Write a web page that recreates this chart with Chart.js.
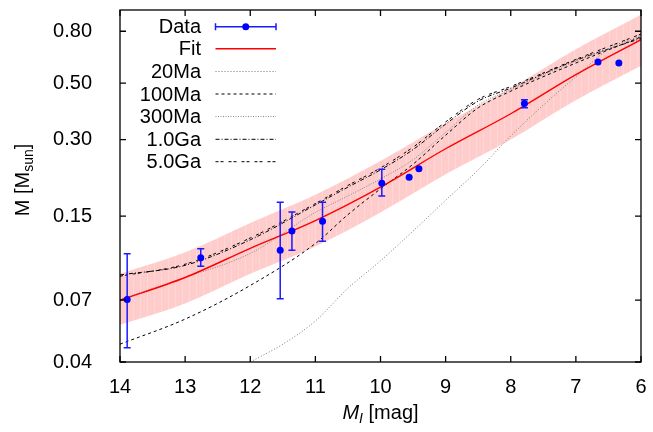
<!DOCTYPE html>
<html>
<head>
<meta charset="utf-8">
<script src="https://cdn.jsdelivr.net/npm/chart.js@4"></script>
<style>
  html, body { margin: 0; padding: 0; background: #fff; }
</style>
</head>
<body>
<canvas id="chart" width="653" height="432"></canvas>
<script>
// absolute I magnitude grid for the fit and its band
const fitMag = [14, 13, 12, 11, 10, 9, 8, 7, 6];
const fitMass = [0.070, 0.086, 0.112, 0.144, 0.195, 0.276, 0.379, 0.54, 0.742];
const bandHigh = [0.089, 0.108, 0.141, 0.182, 0.247, 0.348, 0.478, 0.68, 0.93];
const bandLow = [0.056, 0.068, 0.089, 0.114, 0.155, 0.219, 0.300, 0.428, 0.585];

// isochrones
const isoMag = [14, 13, 12, 11, 10.5, 10, 9.5, 9, 8.5, 8, 7, 6];
const iso100Ma = [0.047, 0.059, 0.080, 0.117, 0.152, 0.192, 0.240, 0.312, 0.400, 0.465, 0.60, 0.76];
const iso300Ma = [0.0705, 0.086, 0.107, 0.155, 0.180, 0.210, 0.250, 0.320, 0.410, 0.472, 0.61, 0.76];
const iso1Ga = [0.088, 0.096, 0.121, 0.166, 0.195, 0.228, 0.274, 0.345, 0.425, 0.478, 0.615, 0.75];
const iso5Ga = [0.087, 0.097, 0.123, 0.168, 0.198, 0.232, 0.280, 0.352, 0.432, 0.485, 0.620, 0.78];
const iso20Mag = [12, 11.5, 11, 10.5, 10, 9.5, 9, 8.5, 8, 7.5, 7, 6.5, 6];
const iso20Ma = [0.040, 0.047, 0.058, 0.078, 0.100, 0.131, 0.173, 0.228, 0.310, 0.41, 0.53, 0.68, 0.77];

// measured stars
const starMag = [13.89, 12.76, 11.54, 11.36, 10.89, 9.98, 9.56, 9.41, 7.79, 6.66, 6.34];
const starMass = [0.0705, 0.1028, 0.110, 0.131, 0.143, 0.202, 0.213, 0.2305, 0.416, 0.605, 0.600];
const starMassLow = [0.0455, 0.0953, 0.0709, 0.110, 0.1195, 0.180, 0.213, 0.2305, 0.400, 0.605, 0.600];
const starMassHigh = [0.1067, 0.1116, 0.170, 0.1555, 0.170, 0.229, 0.213, 0.2305, 0.430, 0.605, 0.600];

const massTicks = [0.04, 0.07, 0.15, 0.30, 0.50, 0.80];

const FONT = '"Liberation Sans", Arial, sans-serif';

function pts(xs, ys) {
  return xs.map((x, i) => ({ x: x, y: ys[i] }));
}

// pink fill with the faint vertical stripes of the original
function bandPattern() {
  const c = document.createElement("canvas");
  c.width = 7;
  c.height = 1;
  const g = c.getContext("2d");
  g.fillStyle = "#ffcccc";
  g.fillRect(0, 0, 7, 1);
  g.fillStyle = "#ffd6d6";
  g.fillRect(0, 0, 1, 1);
  return g.createPattern(c, "repeat");
}

function isoLine(label, mags, vals, color, dash) {
  return {
    label: label,
    data: pts(mags, vals),
    borderColor: color,
    borderWidth: 1,
    borderDash: dash,
    pointRadius: 0,
    fill: false,
    cubicInterpolationMode: "monotone",
  };
}

const datasets = [
  {
    label: "Data",
    data: pts(starMag, starMass),
    showLine: false,
    pointRadius: 3.5,
    pointBackgroundColor: "#0000ff",
    pointBorderColor: "#0000ff",
    pointBorderWidth: 0,
  },
  {
    label: "Fit",
    data: pts(fitMag, fitMass),
    borderColor: "#ff0000",
    borderWidth: 1.4,
    pointRadius: 0,
    fill: false,
    cubicInterpolationMode: "monotone",
  },
  isoLine("20Ma", iso20Mag, iso20Ma, "#777777", [1, 2]),
  isoLine("100Ma", isoMag, iso100Ma, "#000000", [3, 3]),
  isoLine("300Ma", isoMag, iso300Ma, "#888888", [1, 1.5]),
  isoLine("1.0Ga", isoMag, iso1Ga, "#000000", [4, 2, 1, 2]),
  isoLine("5.0Ga", isoMag, iso5Ga, "#000000", [3, 2, 3, 5]),
  {
    label: "bandHigh",
    data: pts(fitMag, bandHigh),
    borderWidth: 0,
    pointRadius: 0,
    backgroundColor: bandPattern(),
    fill: "+1",
    cubicInterpolationMode: "monotone",
  },
  {
    label: "bandLow",
    data: pts(fitMag, bandLow),
    borderWidth: 0,
    pointRadius: 0,
    fill: false,
    cubicInterpolationMode: "monotone",
  },
];

// error bars under the blue points
const errorBars = {
  id: "errorBars",
  beforeDatasetDraw(chart, args) {
    if (args.index !== 0) return;
    const ctx = chart.ctx;
    const xs = chart.scales.x;
    const ys = chart.scales.y;
    ctx.save();
    ctx.strokeStyle = "#1a1aff";
    ctx.lineWidth = 1.5;
    for (let i = 0; i < starMag.length; i++) {
      if (starMassHigh[i] <= starMassLow[i]) continue;
      const px = xs.getPixelForValue(starMag[i]);
      const top = ys.getPixelForValue(starMassHigh[i]);
      const bot = ys.getPixelForValue(starMassLow[i]);
      ctx.beginPath();
      ctx.moveTo(px, top);
      ctx.lineTo(px, bot);
      ctx.moveTo(px - 3.5, top);
      ctx.lineTo(px + 3.5, top);
      ctx.moveTo(px - 3.5, bot);
      ctx.lineTo(px + 3.5, bot);
      ctx.stroke();
    }
    ctx.restore();
  },
};

// gnuplot style frame, inward ticks, titles and key
const frame = {
  id: "frame",
  afterDraw(chart) {
    const ctx = chart.ctx;
    const a = chart.chartArea;
    const xs = chart.scales.x;
    const ys = chart.scales.y;
    ctx.save();
    ctx.strokeStyle = "#000";
    ctx.lineWidth = 1.3;
    ctx.strokeRect(a.left, a.top, a.right - a.left, a.bottom - a.top);
    ctx.beginPath();
    for (let m = 6; m <= 14; m++) {
      const px = xs.getPixelForValue(m);
      ctx.moveTo(px, a.bottom);
      ctx.lineTo(px, a.bottom - 6);
      ctx.moveTo(px, a.top);
      ctx.lineTo(px, a.top + 6);
    }
    massTicks.forEach(v => {
      const py = ys.getPixelForValue(v);
      ctx.moveTo(a.left, py);
      ctx.lineTo(a.left + 6, py);
      ctx.moveTo(a.right, py);
      ctx.lineTo(a.right - 6, py);
    });
    ctx.stroke();

    // axis titles
    ctx.fillStyle = "#000";
    ctx.textBaseline = "alphabetic";
    // x title: M_I [mag]
    ctx.font = "italic 20px " + FONT;
    const wM = ctx.measureText("M").width;
    ctx.font = "italic 14px " + FONT;
    const wI = ctx.measureText("I").width;
    ctx.font = "20px " + FONT;
    const wRest = ctx.measureText(" [mag]").width;
    let x0 = (a.left + a.right) / 2 - (wM + wI + wRest) / 2;
    const yb = 419;
    ctx.textAlign = "left";
    ctx.font = "italic 20px " + FONT;
    ctx.fillText("M", x0, yb);
    ctx.font = "italic 14px " + FONT;
    ctx.fillText("I", x0 + wM, yb + 4);
    ctx.font = "20px " + FONT;
    ctx.fillText(" [mag]", x0 + wM + wI, yb);

    // y title: M [M_sun]
    ctx.save();
    ctx.translate(29, 180);
    ctx.rotate(-Math.PI / 2);
    ctx.font = "20px " + FONT;
    const w1 = ctx.measureText("M [M").width;
    const w3 = ctx.measureText("]").width;
    ctx.font = "14px " + FONT;
    const w2 = ctx.measureText("sun").width;
    let s0 = -(w1 + w2 + w3) / 2;
    ctx.font = "20px " + FONT;
    ctx.fillText("M [M", s0, 0);
    ctx.font = "14px " + FONT;
    ctx.fillText("sun", s0 + w1, 4);
    ctx.font = "20px " + FONT;
    ctx.fillText("]", s0 + w1 + w2, 0);
    ctx.restore();

    // key
    const keyRows = ["Data", "Fit", "20Ma", "100Ma", "300Ma", "1.0Ga", "5.0Ga"];
    const rowY = [26.7, 48.7, 71.5, 94, 116.5, 139.3, 161.7];
    const x1 = 215.5, x2 = 276;
    ctx.font = "20px " + FONT;
    ctx.textAlign = "right";
    ctx.textBaseline = "middle";
    keyRows.forEach((name, i) => {
      const y = rowY[i];
      ctx.fillStyle = "#000";
      ctx.fillText(name, 201, y + 1);
      const ds = chart.data.datasets[i];
      if (i === 0) {
        ctx.strokeStyle = "#1a1aff";
        ctx.lineWidth = 1.5;
        ctx.setLineDash([]);
        ctx.beginPath();
        ctx.moveTo(x1, y);
        ctx.lineTo(x2, y);
        ctx.moveTo(x1, y - 3.5);
        ctx.lineTo(x1, y + 3.5);
        ctx.moveTo(x2, y - 3.5);
        ctx.lineTo(x2, y + 3.5);
        ctx.stroke();
        ctx.fillStyle = "#0000ff";
        ctx.beginPath();
        ctx.arc((x1 + x2) / 2, y, 3.5, 0, Math.PI * 2);
        ctx.fill();
      } else {
        ctx.strokeStyle = ds.borderColor;
        ctx.lineWidth = ds.borderWidth;
        ctx.setLineDash(ds.borderDash || []);
        ctx.beginPath();
        ctx.moveTo(x1, y);
        ctx.lineTo(x2, y);
        ctx.stroke();
      }
    });
    ctx.restore();
  },
};

const chart = new Chart(document.getElementById("chart"), {
  type: "line",
  data: { datasets: datasets },
  options: {
    responsive: false,
    animation: false,
    devicePixelRatio: 1,
    layout: { padding: { top: 10, right: 12, left: 0, bottom: 0 } },
    plugins: {
      legend: { display: false },
      tooltip: { enabled: false },
    },
    scales: {
      x: {
        type: "linear",
        reverse: true,
        min: 6,
        max: 14,
        grid: { display: false },
        border: { display: false },
        ticks: {
          stepSize: 1,
          padding: 5,
          color: "#000",
          font: { family: FONT, size: 20 },
          maxRotation: 0,
        },
        afterFit: s => {
          s.height = 70;
          s.paddingLeft = 0;
          s.paddingRight = 0;
        },
      },
      y: {
        type: "logarithmic",
        min: 0.04,
        max: 0.97,
        grid: { display: false },
        border: { display: false },
        afterBuildTicks: s => { s.ticks = massTicks.map(v => ({ value: v })); },
        ticks: {
          padding: 20,
          color: "#000",
          font: { family: FONT, size: 20 },
          callback: v => Number(v).toFixed(2),
        },
        afterFit: s => {
          s.width = 120;
          s.paddingTop = 0;
          s.paddingBottom = 0;
        },
      },
    },
  },
  plugins: [errorBars, frame],
});
</script>
</body>
</html>
